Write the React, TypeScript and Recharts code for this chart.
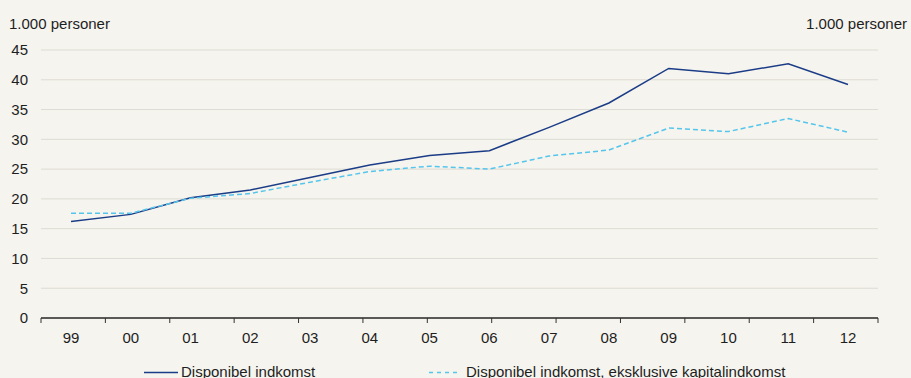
import React from 'react';
import { LineChart, Line, XAxis, YAxis, CartesianGrid, Legend } from 'recharts';

const years = ['99', '00', '01', '02', '03', '04', '05', '06', '07', '08', '09', '10', '11', '12'];
const disponibel = [16.2, 17.4, 20.2, 21.5, 23.6, 25.7, 27.3, 28.1, 32.0, 36.1, 41.9, 41.0, 42.7, 39.2];
const eksklKapital = [17.6, 17.6, 20.1, 20.9, 22.8, 24.6, 25.5, 25.0, 27.2, 28.2, 31.9, 31.3, 33.5, 31.2];
const yTicks = [0, 5, 10, 15, 20, 25, 30, 35, 40, 45];
const boundaryTicks = [0, 1, 2, 3, 4, 5, 6, 7, 8, 9, 10, 11, 12, 13, 14];

const seriesNames = ['Disponibel indkomst', 'Disponibel indkomst, eksklusive kapitalindkomst'];
const unitLabel = '1.000 personer';

const data = years.map((y, i) => ({ year: y, a: disponibel[i], b: eksklKapital[i] }));

const FONT = '"Liberation Sans", Arial, Helvetica, sans-serif';
const FS = 15;
const TEXT = '#1e1e1e';
const NAVY = '#1b3c87';
const LIGHT = '#56c5ec';
const BG = '#f5f4ee';

const LegendContent = () => (
  <svg width={911} height={20} style={{ display: 'block' }}>
    <line x1={144} x2={178} y1={12.5} y2={12.5} stroke={NAVY} strokeWidth={1.5} />
    <text x={181} y={17} fontSize={FS} fontFamily={FONT} fill={TEXT}>{seriesNames[0]}</text>
    <line x1={429} x2={460} y1={12.5} y2={12.5} stroke={LIGHT} strokeWidth={1.5} strokeDasharray="4 4" />
    <text x={466} y={17} fontSize={FS} fontFamily={FONT} fill={TEXT}>{seriesNames[1]}</text>
  </svg>
);

export default function App() {
  return (
    <div style={{ position: 'fixed', left: 0, top: 0, width: 911, height: 378, background: BG, overflow: 'hidden' }}>
      <LineChart width={911} height={378} data={data} margin={{ top: 50, right: 0, bottom: 10, left: 0 }}>
        <CartesianGrid xAxisId="x" yAxisId="l" vertical={false} stroke="#dddcd3" strokeWidth={1} />
        <XAxis
          xAxisId="t"
          type="number"
          domain={[0, 14]}
          ticks={boundaryTicks}
          height={1}
          axisLine={{ stroke: '#2a2a2a', strokeWidth: 1.3 }}
          tickLine={{ stroke: '#333', strokeWidth: 1 }}
          tickSize={5}
          tickFormatter={() => ''}
          allowDataOverflow
        />
        <XAxis
          xAxisId="x"
          dataKey="year"
          height={29}
          padding={{ left: 30, right: 30 }}
          axisLine={false}
          tickLine={false}
          tickSize={0}
          tickMargin={13}
          interval={0}
          tick={{ fontSize: FS, fontFamily: FONT, fill: TEXT }}
        />
        <YAxis
          yAxisId="l"
          width={41}
          domain={[0, 45]}
          ticks={yTicks}
          axisLine={false}
          tickLine={false}
          tickSize={0}
          tickMargin={13}
          tick={{ fontSize: FS, fontFamily: FONT, fill: TEXT }}
          label={{
            content: () => (
              <text x={9} y={29} fontSize={FS} fontFamily={FONT} fill={TEXT}>{unitLabel}</text>
            ),
          }}
        />
        <YAxis
          yAxisId="r"
          orientation="right"
          width={33}
          domain={[0, 45]}
          ticks={yTicks}
          axisLine={false}
          tickLine={false}
          tickSize={0}
          tickMargin={14}
          tick={{ fontSize: FS, fontFamily: FONT, fill: TEXT }}
          label={{
            content: () => (
              <text x={907} y={29} fontSize={FS} fontFamily={FONT} fill={TEXT} textAnchor="end">{unitLabel}</text>
            ),
          }}
        />
        <Legend
          verticalAlign="bottom"
          height={20}
          content={LegendContent}
          wrapperStyle={{ position: 'absolute', left: 0, top: 360, width: 911, height: 20 }}
        />
        <Line
          xAxisId="x"
          yAxisId="l"
          type="linear"
          dataKey="a"
          name={seriesNames[0]}
          stroke={NAVY}
          strokeWidth={1.5}
          dot={false}
          activeDot={false}
          isAnimationActive={false}
        />
        <Line
          xAxisId="x"
          yAxisId="l"
          type="linear"
          dataKey="b"
          name={seriesNames[1]}
          stroke={LIGHT}
          strokeWidth={1.5}
          strokeDasharray="5 3"
          dot={false}
          activeDot={false}
          isAnimationActive={false}
        />
      </LineChart>
    </div>
  );
}
